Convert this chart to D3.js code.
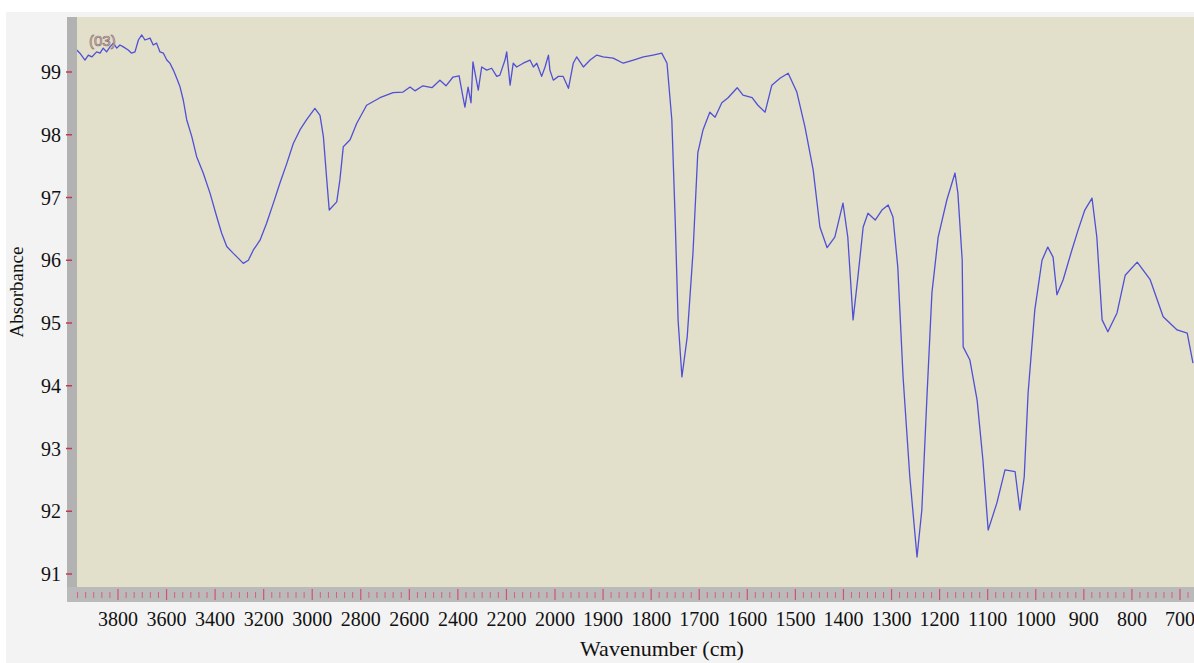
<!DOCTYPE html>
<html lang="en">
<head>
<meta charset="UTF-8">
<script src="https://d3js.org/d3.v7.min.js"></script>
<style>
  html, body { margin: 0; padding: 0; background: #fff; }
  svg { display: block; }
  .lbl { font-family: "Liberation Serif", "DejaVu Serif", serif; fill: #111; }
</style>
<title>Absorbance spectrum</title>
</head>
<body>
<svg id="chart" width="1194" height="663"></svg>
<script>
// spectrum: wavenumber (cm-1) and absorbance
var wavenumber = [3970, 3957, 3936, 3922, 3908, 3888, 3874, 3861, 3847, 3833, 3819, 3805, 3792, 3778, 3758, 3744,
  3730, 3716, 3702, 3689, 3668, 3655, 3641, 3627, 3613, 3599, 3586, 3572, 3558, 3545, 3531, 3517,
  3496, 3476, 3449, 3421, 3393, 3373, 3352, 3325, 3304, 3284, 3263, 3243, 3215, 3188, 3160, 3133,
  3105, 3078, 3050, 3023, 2989, 2968, 2954, 2940, 2930, 2899, 2886, 2872, 2844, 2817, 2776,
  2721, 2667, 2626, 2597, 2577, 2544, 2507, 2474, 2449, 2420, 2395, 2379, 2371, 2358, 2346, 2338,
  2316, 2302, 2281, 2261, 2240, 2227, 2206, 2199, 2185, 2172, 2158, 2131, 2103, 2089, 2075, 2055,
  2041, 2027, 2021, 2007, 1993, 1983, 1972, 1962, 1955, 1941, 1927, 1913, 1900, 1879, 1858, 1837,
  1816, 1796, 1778, 1767, 1757, 1750, 1744, 1736, 1725, 1713, 1703,
  1692, 1678, 1667, 1653, 1640, 1621, 1609, 1590, 1578, 1563, 1549, 1532, 1515, 1497, 1480, 1463,
  1449, 1434, 1418, 1401, 1391, 1380, 1370, 1359, 1349, 1334, 1320, 1307, 1297, 1287, 1276, 1262,
  1247, 1237, 1226, 1216, 1203, 1185, 1168, 1162, 1153, 1151, 1137, 1122, 1110, 1099, 1081, 1064,
  1043, 1033, 1024, 1016, 1002, 987, 975, 964, 956, 943, 925, 912, 898, 883, 873, 862, 850, 831,
  814, 789, 762, 735, 706, 685, 673];
var absorbance = [99.35, 99.30, 99.19, 99.27, 99.24, 99.32, 99.30, 99.38, 99.32, 99.40, 99.46, 99.38, 99.43, 99.40, 99.35, 99.30,
  99.32, 99.51, 99.59, 99.51, 99.54, 99.43, 99.46, 99.32, 99.30, 99.19, 99.14, 99.03, 98.90, 98.77, 98.55, 98.24,
  97.97, 97.65, 97.39, 97.07, 96.69, 96.43, 96.22, 96.11, 96.03, 95.95, 96.00, 96.16, 96.32, 96.59, 96.91, 97.23,
  97.54, 97.86, 98.08, 98.24, 98.42, 98.31, 97.97, 97.28, 96.80, 96.93, 97.28, 97.81, 97.92, 98.18, 98.47,
  98.59, 98.67, 98.68, 98.76, 98.70, 98.78, 98.75, 98.87, 98.78, 98.92, 98.94, 98.60, 98.44, 98.76, 98.51, 99.16,
  98.71, 99.08, 99.03, 99.06, 98.93, 98.95, 99.19, 99.32, 98.79, 99.14, 99.08, 99.14, 99.19, 99.08, 99.14, 98.93,
  99.08, 99.27, 99.03, 98.87, 98.93, 98.93, 98.74, 99.14, 99.24, 99.08, 99.19, 99.27, 99.24, 99.22, 99.14, 99.19,
  99.24, 99.27, 99.30, 99.14, 98.24, 96.64, 95.05, 94.14, 94.78, 96.12, 97.71,
  98.08, 98.36, 98.28, 98.51, 98.59, 98.75, 98.63, 98.59, 98.47, 98.36, 98.79, 98.90, 98.98, 98.68, 98.12, 97.44,
  96.53, 96.20, 96.37, 96.91, 96.37, 95.05, 95.73, 96.53, 96.75, 96.64, 96.80, 96.88, 96.69, 95.89, 94.14, 92.55,
  91.27, 92.02, 93.88, 95.48, 96.37, 96.96, 97.39, 97.07, 96.00, 94.62, 94.41, 93.77, 92.82, 91.70, 92.13, 92.66,
  92.63, 92.02, 92.55, 93.88, 95.21, 96.00, 96.21, 96.05, 95.45, 95.69, 96.16, 96.48, 96.80, 96.99, 96.37, 95.05, 94.86, 95.16,
  95.76, 95.97, 95.69, 95.10, 94.89, 94.84, 94.36];

var yTicks = [91, 92, 93, 94, 95, 96, 97, 98, 99];
var xTicks = [3800, 3600, 3400, 3200, 3000, 2800, 2600, 2400, 2200, 2000, 1900, 1800, 1700, 1600,
  1500, 1400, 1300, 1200, 1100, 1000, 900, 800, 700];

var W = 1194, H = 663;
var plot = { left: 77, top: 17, right: 1194, bottom: 587 };

var svg = d3.select("#chart");

// the axis is split: 200 cm-1 per label down to 2000, then 100 per label
var x = d3.scaleLinear().domain([3800, 2000, 700]).range([118, 555, 1180]);
var y = d3.scaleLinear().domain([91, 99]).range([574, 72]);

// figure background
svg.append("rect").attr("x", 6).attr("y", 12).attr("width", W - 6).attr("height", H - 12).attr("fill", "#f3f3f3");

// plot area
svg.append("rect").attr("x", plot.left).attr("y", plot.top)
  .attr("width", plot.right - plot.left).attr("height", plot.bottom - plot.top)
  .attr("fill", "#e2dfca");

// grey bands on the left and bottom
svg.append("rect").attr("x", 67).attr("y", plot.top).attr("width", plot.left - 67)
  .attr("height", 602 - plot.top).attr("fill", "#b2b2b2");
svg.append("rect").attr("x", 67).attr("y", plot.bottom).attr("width", W - 67)
  .attr("height", 15).attr("fill", "#bababa");

// minor ticks in the bottom band, 6 steps between labels
var minor = [];
for (var i = 0; i < xTicks.length - 1; i++) {
  for (var k = 1; k < 6; k++) minor.push(xTicks[i] + (xTicks[i + 1] - xTicks[i]) * k / 6);
}
for (var k = 1; k <= 5; k++) minor.push(3800 + k * 200 / 6);
minor.push(700 - 100 / 6);

svg.append("g").selectAll("line").data(minor).enter().append("line")
  .attr("x1", function (d) { return x(d); }).attr("x2", function (d) { return x(d); })
  .attr("y1", 592).attr("y2", 598)
  .attr("stroke", "#d8607c").attr("stroke-width", 1);

svg.append("g").selectAll("line").data(xTicks).enter().append("line")
  .attr("x1", function (d) { return x(d); }).attr("x2", function (d) { return x(d); })
  .attr("y1", 589).attr("y2", 600)
  .attr("stroke", "#d8506e").attr("stroke-width", 1.2);

// y ticks: small red dashes on the left band
svg.append("g").selectAll("line").data(yTicks).enter().append("line")
  .attr("x1", 66).attr("x2", 72)
  .attr("y1", function (d) { return y(d); }).attr("y2", function (d) { return y(d); })
  .attr("stroke", "#c23a52").attr("stroke-width", 1.5);

svg.append("g").selectAll("text").data(yTicks).enter().append("text")
  .attr("class", "lbl")
  .attr("x", 61).attr("y", function (d) { return y(d); })
  .attr("dy", "0.35em").attr("text-anchor", "end")
  .style("font-size", "20px")
  .text(function (d) { return d; });

svg.append("g").selectAll("text").data(xTicks).enter().append("text")
  .attr("class", "lbl")
  .attr("x", function (d) { return x(d); }).attr("y", 626)
  .attr("text-anchor", "middle")
  .style("font-size", "20px")
  .text(function (d) { return d; });

svg.append("text").attr("class", "lbl")
  .attr("x", 662).attr("y", 656).attr("text-anchor", "middle")
  .style("font-size", "22px")
  .text("Wavenumber (cm)");

svg.append("text").attr("class", "lbl")
  .attr("transform", "translate(23,292) rotate(-90)")
  .attr("text-anchor", "middle")
  .style("font-size", "19px")
  .text("Absorbance");

// spectrum
svg.append("clipPath").attr("id", "clip").append("rect")
  .attr("x", plot.left).attr("y", plot.top)
  .attr("width", plot.right - plot.left).attr("height", plot.bottom - plot.top);

var pts = wavenumber.map(function (d, i) { return [d, absorbance[i]]; });
var line = d3.line()
  .x(function (d) { return x(d[0]); })
  .y(function (d) { return y(d[1]); });

svg.append("path").datum(pts)
  .attr("clip-path", "url(#clip)")
  .attr("d", line)
  .attr("fill", "none")
  .attr("stroke", "#5050d6")
  .attr("stroke-width", 1.3)
  .attr("stroke-linejoin", "round");

// sample tag in the corner
svg.append("text")
  .attr("x", 89).attr("y", 46)
  .style("font-family", "Liberation Sans, sans-serif")
  .style("font-size", "15px")
  .attr("fill", "#e6ddd0").attr("stroke", "#8d6f72").attr("stroke-width", 0.7)
  .text("(03)");
</script>
</body>
</html>
